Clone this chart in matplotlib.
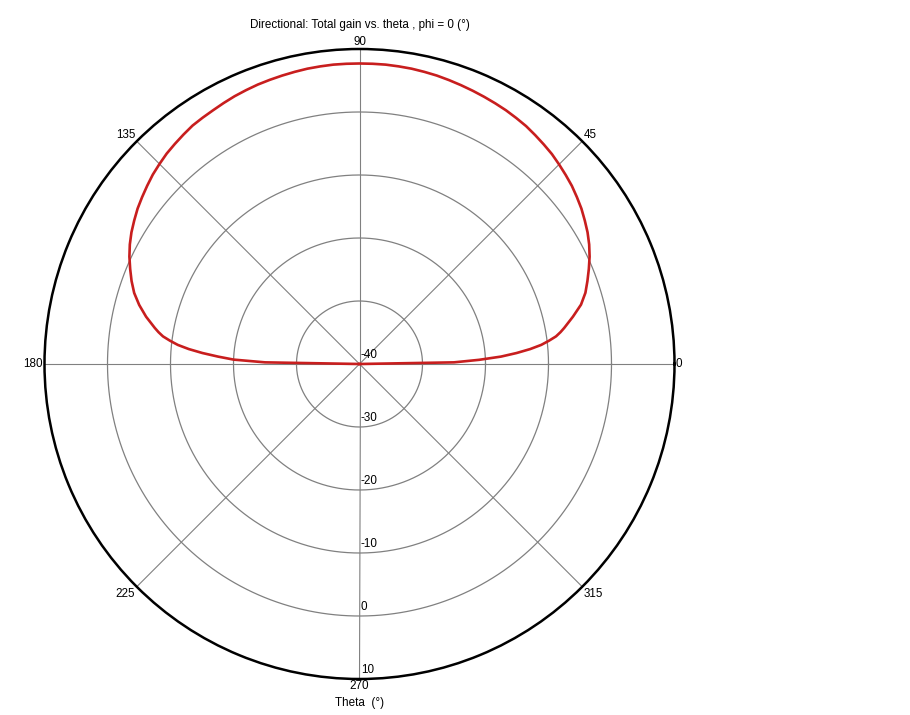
import numpy as np
import matplotlib
matplotlib.use("Agg")
import matplotlib.pyplot as plt

plt.rcParams['font.family'] = ['Liberation Sans', 'DejaVu Sans']

# Data: total gain (dB) vs theta (deg), phi = 0
theta_deg = [0, 1, 2, 3, 4, 5, 6, 7, 8, 9, 10, 12.5, 15, 17.5, 20, 22.5, 25, 27.5,
             30, 32.5, 35, 37.5, 40, 42.5, 45, 47.5, 50, 52.5, 55, 57.5, 60, 62.5,
             65, 67.5, 70, 72.5, 75, 77.5, 80, 82.5, 85, 87.5, 90, 92.5, 95, 97.5,
             100, 102.5, 105, 107.5, 110, 112.5, 115, 117.5, 120, 122.5, 125, 127.5,
             130, 132.5, 135, 137.5, 140, 142.5, 145, 147.5, 150, 152.5, 155, 157.5,
             160, 162.5, 165, 167.5, 170, 171, 172, 173, 174, 175, 176, 177, 178,
             179, 180, 225, 270, 315, 360]
gain_db = [-40, -25, -21, -17.5, -15, -12.8, -11, -9.7, -8.5, -7.7, -7, -5.3, -3.6,
           -2.4, -1.5, -0.6, 0.3, 1.1, 1.8, 2.4, 3.0, 3.5, 4.0, 4.4, 4.8, 5.2, 5.5,
           5.8, 6.1, 6.3, 6.5, 6.65, 6.8, 6.95, 7.1, 7.25, 7.4, 7.5, 7.6, 7.65, 7.7,
           7.7, 7.7, 7.7, 7.7, 7.65, 7.6, 7.5, 7.4, 7.3, 7.2, 7.05, 6.9, 6.7, 6.5,
           6.35, 6.2, 5.9, 5.6, 5.3, 4.9, 4.5, 4.0, 3.5, 3.0, 2.4, 1.8, 1.1, 0.3,
           -0.6, -1.5, -2.5, -3.8, -5.3, -7, -7.7, -8.5, -9.7, -11, -12.8, -15,
           -17.5, -20, -25, -40,
           -40, -40, -40, -40]

r_ticks = [-40, -30, -20, -10, 0, 10]
r_tick_labels = ['-40', '-30', '-20', '-10', '0', '10']
theta_ticks = [0, 45, 90, 135, 180, 225, 270, 315]
theta_tick_labels = ['0', '45', '90', '135', '180', '225', '270', '315']

title = "Directional: Total gain vs. theta , phi = 0 (°)"
xlabel = "Theta  (°)"

W, H = 910, 715
fig = plt.figure(figsize=(W / 100, H / 100), dpi=100)
cx, cy, R = 359.5, 364.0, 315.0
ax = fig.add_axes([(cx - R) / W, (H - cy - R) / H, 2 * R / W, 2 * R / H],
                  projection='polar')

rmin, rmax = r_ticks[0], r_ticks[-1]
ax.set_ylim(rmin, rmax)
ax.set_theta_zero_location('E')
ax.set_theta_direction(1)

# grid
ax.grid(False)
ax.set_xticks([])
ax.set_yticks([])
tt = np.linspace(0, 2 * np.pi, 720)
for rv in r_ticks[1:-1]:
    ax.plot(tt, np.full_like(tt, rv), color='#808080', lw=0.9, zorder=1)
for t in theta_ticks:
    ax.plot([np.deg2rad(t), np.deg2rad(t)], [rmin, rmax], color='#808080', lw=0.8, zorder=1)

ax.spines['polar'].set_color('black')
ax.spines['polar'].set_linewidth(1.8)

# curve
ax.plot(np.deg2rad(theta_deg), gain_db, color='#c81e1e', lw=1.9, zorder=3, clip_on=False)

# radial labels along 270 deg
for rv, lab in zip(r_ticks, r_tick_labels):
    ax.annotate(lab, xy=(np.deg2rad(270), rv), xytext=(1.0, 2.0),
                textcoords='offset points', ha='left', va='bottom', fontsize=8.4,
                zorder=4)

# angle labels
align = {
    0: ('left', 'center', (1, 0)),
    45: ('left', 'bottom', (1, 0)),
    90: ('center', 'bottom', (0, 1)),
    135: ('right', 'bottom', (-1, 0)),
    180: ('right', 'center', (-1, 0)),
    225: ('right', 'top', (-1, -1)),
    270: ('center', 'top', (0, -1)),
    315: ('left', 'top', (1, -1)),
}
for t, lab in zip(theta_ticks, theta_tick_labels):
    ha, va, off = align[t]
    ax.annotate(lab, xy=(np.deg2rad(t), rmax), xytext=off, textcoords='offset points',
                ha=ha, va=va, fontsize=8.4, annotation_clip=False)

fig.text(cx / W, 1 - 25 / H, title, ha='center', va='center', fontsize=8.4)
fig.text(cx / W, 1 - 703 / H, xlabel, ha='center', va='center', fontsize=8.4)

fig.savefig('out.png', dpi=100)
